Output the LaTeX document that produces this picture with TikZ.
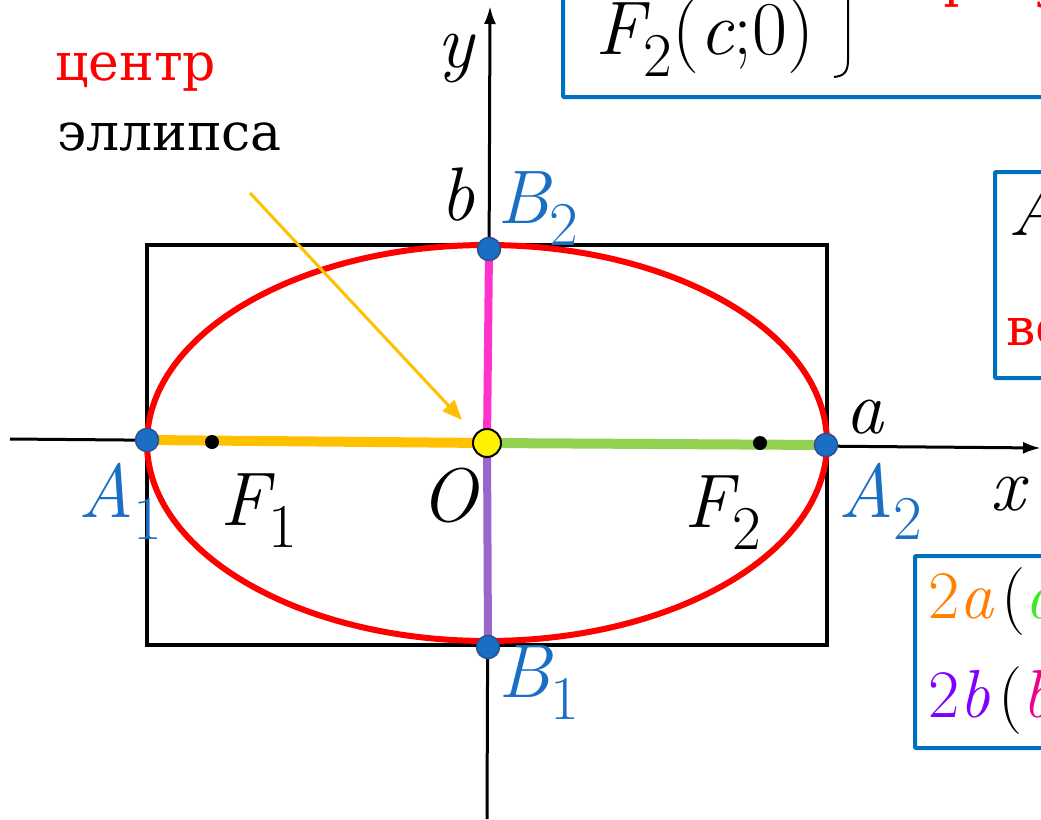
\documentclass[tikz,border=0pt]{standalone}
\usepackage{fontspec}
\newfontfamily\cyr{DejaVu Serif}
\usetikzlibrary{arrows.meta}

\definecolor{boxblue}{HTML}{0070C0}
\definecolor{ptblue}{HTML}{1A6FC4}
\definecolor{ptedge}{HTML}{2F4F8F}
\definecolor{semia}{HTML}{FFC000}
\definecolor{semiag}{HTML}{92D050}
\definecolor{semib}{HTML}{FF33CC}
\definecolor{semibp}{HTML}{9966CC}
\definecolor{twoa}{HTML}{FF7F00}
\definecolor{twob}{HTML}{7F00FF}

\newcommand{\sbs}[1]{\raisebox{-0.3em}{\scalebox{0.82}{\upshape #1}}}

\begin{document}
\begin{tikzpicture}[x=1pt, y=-1pt,
  lbl/.style={font=\fontsize{76}{76}\selectfont\itshape, inner sep=0pt},
  vlbl/.style={lbl, text=ptblue},
  txt/.style={font=\cyr\fontsize{52}{52}\selectfont, inner sep=0pt},
  vdot/.style={circle, fill=ptblue, draw=ptedge, line width=1.5pt, minimum size=23pt, inner sep=0pt},
  fdot/.style={circle, fill=black, minimum size=14pt, inner sep=0pt},
  semi/.style={line width=10pt},
  infobox/.style={draw=boxblue, line width=4pt, rounded corners=1pt},
  >={Latex[length=18pt, width=12pt]}]
\useasboundingbox (0,0) rectangle (1041,819);

% info boxes, cut by the page edge
\draw[infobox] (563,-20) rectangle (1080,97);
\draw[infobox] (995,172) rectangle (1080,378);
\draw[infobox] (915,556) rectangle (1080,748);
\node[lbl, anchor=base west] (foc2) at (595,54) {F\sbs{2}\upshape(\itshape c\upshape;0)};
\draw[line width=2pt] (848,-10) -- (848,60) .. controls (848,72) and (844,76) .. (834,77);
\node[txt, text=red, anchor=base west] (foctxt) at (931,-3) {фокусы};
\node[lbl, anchor=base west] (vtx) at (1008,235) {A\sbs{1}, A\sbs{2}};
\node[txt, text=red, anchor=base west] (vtxtxt) at (1006,345) {вершины};
\node[lbl, font=\fontsize{68}{68}\selectfont\itshape, anchor=base west] (maj) at (928,618)
  {\color{twoa}\upshape 2\itshape a\hspace{8pt}\upshape\color{black}(\itshape\color{semiag!40!green}a};
\node[lbl, font=\fontsize{68}{68}\selectfont\itshape, anchor=base west] (mnr) at (928,717)
  {\color{twob}\upshape 2\itshape b\hspace{8pt}\upshape\color{black}(\itshape\color{magenta}b};

% key points
\coordinate (O)  at (487,443);
\coordinate (pA1) at (147,440);
\coordinate (pA2) at (826,445);
\coordinate (pB2) at (489,249);
\coordinate (pB1) at (488,647);
\coordinate (xs) at (10,439);
\coordinate (xe) at (1041,448);
\coordinate (ys) at (487,819);
\coordinate (ye) at (490,6);

% box and ellipse
\draw[line width=4.5pt] (147,245) rectangle (827,645);
\draw[red, line width=6pt] (O) ellipse [x radius=340, y radius=198];

% axes
\draw[->, line width=3pt] (xs) -- (xe);
\draw[->, line width=3pt] (ys) -- (ye);

% semi-axes
\draw[semi, semia]  (pA1) -- (O);
\draw[semi, semiag] (O) -- (pA2);
\draw[line width=8pt, semib]  (O) -- (pB2);
\draw[line width=8pt, semibp] (O) -- (pB1);

% points
\node[fdot] (F1) at (212,442) {};
\node[fdot] (F2) at (760,443) {};
\node[vdot] (A1) at (pA1) {};
\node[vdot] (A2) at (pA2) {};
\node[vdot] (B2) at (pB2) {};
\node[vdot] (B1) at (pB1) {};
\node[circle, fill=yellow, draw=black, line width=2pt, minimum size=28pt, inner sep=0pt] (Oc) at (O) {};

% labels
\node[txt, text=red, anchor=base west] (ctr) at (55,80) {центр};
\node[txt, anchor=base west] (ell) at (57,150) {эллипса};
\coordinate (tail) at (250,193);
\draw[-{Triangle[length=20pt, width=16pt]}, semia, line width=3pt] (tail) -- (462,420);

\node[lbl, anchor=base] (ylbl) at (456,67) {y};
\node[lbl, anchor=base] (xlbl) at (1008,510) {x};
\node[lbl, anchor=base] (blbl) at (458,220) {b};
\node[lbl, anchor=base] (albl) at (864,433) {a};
\node[vlbl, anchor=base west] (B2l) at (497,223) {B\sbs{2}};
\node[vlbl, anchor=base west] (B1l) at (498,697) {B\sbs{1}};
\node[vlbl, anchor=base west] (A1l) at (78,517) {A\sbs{1}};
\node[vlbl, anchor=base west] (A2l) at (838,517) {A\sbs{2}};
\node[lbl, anchor=base west] (F1l) at (220,525) {F\sbs{1}};
\node[lbl, anchor=base west] (F2l) at (684,527) {F\sbs{2}};
\node[lbl, anchor=base west] (Ol) at (420,521) {O};
\end{tikzpicture}
\end{document}
